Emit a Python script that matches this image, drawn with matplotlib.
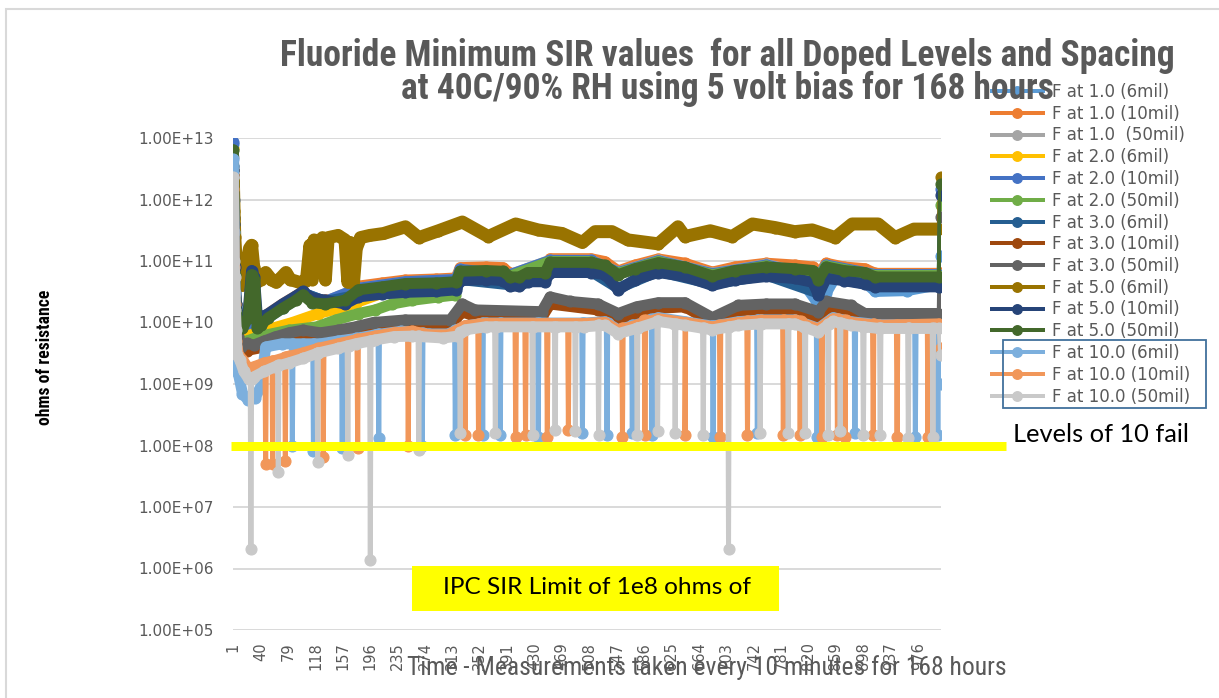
import matplotlib
matplotlib.use("Agg")
import matplotlib.pyplot as plt
from matplotlib import font_manager as fm
from matplotlib.patches import Rectangle
from matplotlib.ticker import FixedLocator, FuncFormatter, NullLocator

# ---------------- data (index of measurement, ohms) ----------------
n_points = 1008
tick_labels = [1, 40, 79, 118, 157, 196, 235, 274, 313, 352, 391, 430, 469,
               508, 547, 586, 625, 664, 703, 742, 781, 820, 859, 898, 937, 976]
y_ticks = [1e5, 1e6, 1e7, 1e8, 1e9, 1e10, 1e11, 1e12, 1e13]
ipc_limit = 1e8

f1_6 = [(1, 8e12), (2, 5e11), (3, 5e10), (5, 1.5e10), (9, 9e9), (20, 1e10), (40, 1e10), (71, 1.7e10),
        (100, 2.8e10), (132, 2.1e10), (179, 3.4e10), (246, 4.4e10), (318, 4.7e10), (324, 7e10),
        (395, 5.7e10), (452, 9.6e10), (510, 9.6e10), (549, 6.2e10), (606, 9.5e10), (683, 5.8e10),
        (760, 8e10), (800, 7.5e10), (815, 4e10), (830, 2.3e10), (845, 3e10), (860, 6e10), (880, 7e10),
        (900, 4.5e10), (915, 3.2e10), (960, 3.3e10), (1000, 4e10), (1006, 4.5e10), (1008, 1.2e11)]
f1_10 = [(1, 1e12), (2, 2e11), (3, 4e10), (5, 1.2e10), (9, 7e9), (14, 8e9), (22, 1e10), (27, 1.5e10),
         (35, 1.1e10), (40, 1.1e10), (51, 1.4e10), (71, 2e10), (90, 2.7e10), (100, 3.2e10), (113, 2.4e10),
         (132, 2.3e10), (160, 2.6e10), (179, 3.9e10), (213, 4.4e10), (246, 4.9e10), (290, 5.1e10),
         (318, 5.3e10), (324, 7.8e10), (360, 8e10), (385, 7.8e10), (395, 6.3e10), (408, 6.3e10),
         (420, 7.5e10), (445, 7.5e10), (452, 1.09e11), (510, 1.09e11), (530, 9.8e10), (549, 6.9e10),
         (573, 8.6e10), (606, 1.08e11), (644, 9.2e10), (683, 6.6e10), (715, 8e10), (760, 9.2e10),
         (800, 8.6e10), (826, 8e10), (834, 5.8e10), (845, 9.2e10), (870, 8e10), (900, 7.5e10),
         (915, 6.3e10), (1006, 6.3e10), (1008, 6.3e10)]
f1_50 = [(1, 5e12), (2, 2e11), (3, 3e10), (5, 1e10), (9, 7e9), (20, 9e9), (40, 1e10), (71, 1.8e10),
         (100, 2.9e10), (132, 2.2e10), (179, 3.6e10), (246, 4.6e10), (318, 5e10), (324, 7.3e10),
         (395, 6e10), (452, 1.03e11), (510, 1.03e11), (549, 6.6e10), (606, 1.03e11), (683, 6.3e10),
         (760, 8.8e10), (834, 5.6e10), (845, 8.5e10), (915, 6e10), (1006, 6e10), (1008, 6e10)]
f2_6 = [(1, 7e12), (2, 4e11), (3, 2e10), (5, 6e9), (9, 5e9), (20, 6e9), (47, 7.5e9), (85, 1e10),
        (122, 1.4e10), (160, 1.8e10), (175, 2.1e10), (213, 3e10), (290, 4.2e10), (318, 4.8e10),
        (324, 7e10), (395, 5.8e10), (452, 1e11), (510, 1e11), (549, 6.3e10), (606, 9.9e10),
        (683, 6e10), (760, 8.4e10), (834, 5.3e10), (845, 8.4e10), (915, 5.8e10), (1006, 5.8e10),
        (1008, 5.8e10)]
f2_10 = [(1, 8.5e12), (2, 1e12), (3, 8e10), (5, 2e10), (9, 9e9), (20, 1e10), (40, 9.5e9), (71, 1.8e10),
         (100, 3e10), (132, 2.2e10), (179, 3.6e10), (246, 4.6e10), (318, 5e10), (324, 7.3e10),
         (395, 6e10), (452, 1.02e11), (510, 1.02e11), (549, 6.5e10), (606, 1.01e11), (683, 6.2e10),
         (760, 8.6e10), (834, 5.4e10), (845, 8.6e10), (915, 6e10), (1006, 6e10), (1008, 1.5e12)]
f2_50 = [(1, 1.3e12), (2, 1e11), (3, 1.5e10), (5, 5e9), (9, 4e9), (20, 5e9), (40, 6e9), (80, 7.5e9),
         (120, 8.5e9), (147, 1.1e10), (179, 1.4e10), (203, 1.6e10), (227, 2e10), (256, 2.3e10),
         (293, 2.6e10), (317, 2.8e10), (324, 6.5e10), (395, 5.7e10), (452, 9.8e10), (510, 9.8e10),
         (549, 6.3e10), (606, 9.8e10), (683, 6e10), (760, 8.3e10), (834, 5.2e10), (845, 8.3e10),
         (915, 5.8e10), (1006, 5.8e10), (1008, 8e11)]
f3_6 = [(1, 3.5e12), (2, 5e11), (3, 7e10), (5, 1.8e10), (9, 1e10), (20, 1.2e10), (40, 1.1e10),
        (71, 1.9e10), (100, 3e10), (132, 2.2e10), (179, 2.8e10), (246, 3.3e10), (318, 3.6e10),
        (324, 5e10), (395, 4.1e10), (452, 6.8e10), (510, 6.8e10), (549, 3.6e10), (606, 6.8e10),
        (683, 4.2e10), (760, 5.9e10), (834, 3e10), (845, 5.5e10), (915, 4e10), (1006, 4e10), (1008, 4e10)]
f3_10 = [(1, 2.5e12), (2, 3e11), (3, 5e10), (5, 1e10), (9, 4e9), (20, 3.5e9), (45, 4e9), (80, 5.5e9),
         (125, 5.5e9), (175, 7e9), (240, 9e9), (310, 9e9), (327, 1.5e10), (345, 1.25e10), (440, 1.2e10),
         (452, 2e10), (520, 1.6e10), (549, 1.15e10), (606, 1.7e10), (644, 1.8e10), (683, 1e10),
         (760, 1.6e10), (834, 1.2e10), (845, 1.7e10), (900, 1.2e10), (1006, 1.15e10), (1008, 1.15e10)]
f3_50 = [(1, 3e12), (2, 5e11), (3, 1e11), (5, 2e10), (8, 6e9), (12, 4e9), (20, 4.6e9), (30, 4.3e9),
         (45, 5e9), (60, 5.8e9), (80, 6.8e9), (100, 7.5e9), (125, 6.8e9), (150, 7.5e9), (175, 8.5e9),
         (200, 1e10), (246, 1.1e10), (310, 1.1e10), (327, 2e10), (345, 1.6e10), (440, 1.5e10),
         (452, 2.6e10), (480, 2.2e10), (520, 2e10), (549, 1.4e10), (575, 1.8e10), (606, 2.1e10),
         (644, 2.1e10), (683, 1.2e10), (720, 1.9e10), (760, 2e10), (800, 2e10), (834, 1.5e10),
         (845, 2.2e10), (880, 1.9e10), (900, 1.4e10), (1006, 1.4e10), (1008, 5.2e11)]
f5_6 = [(1, 2e12), (2, 6.5e11), (3, 2.5e11), (5, 1e11), (8, 6e10), (14, 4e10), (20, 9e10), (24, 1.6e11),
        (27, 1.8e11), (30, 8e10), (34, 4.5e10), (40, 5e10), (47, 6.5e10), (55, 5e10), (62, 4.5e10),
        (70, 5.5e10), (76, 6.5e10), (82, 5e10), (95, 4.5e10), (105, 4.8e10), (110, 1.8e11), (113, 5e10),
        (116, 2.2e11), (122, 1.6e11), (128, 2.4e11), (132, 5e10), (136, 2.4e11), (150, 2.6e11),
        (160, 2.2e11), (164, 4.5e10), (167, 2e11), (172, 4.4e10), (176, 1.6e11), (182, 2.4e11),
        (195, 2.6e11), (215, 2.8e11), (246, 3.6e11), (265, 2.4e11), (293, 3.1e11), (327, 4.3e11),
        (364, 2.5e11), (403, 4e11), (435, 3.2e11), (469, 2.8e11), (498, 2e11), (516, 3e11), (540, 3e11),
        (563, 2.2e11), (606, 1.9e11), (634, 3.6e11), (644, 2.5e11), (680, 3.1e11), (711, 2.5e11),
        (740, 4e11), (772, 3.5e11), (800, 3e11), (825, 3.2e11), (858, 2.4e11), (882, 4e11),
        (919, 4e11), (943, 2.4e11), (970, 3.3e11), (1006, 3.3e11), (1008, 2.3e12)]
f5_10 = [(1, 3e12), (2, 4e11), (3, 8e10), (5, 2e10), (9, 1e10), (14, 9e9), (22, 1.5e10), (27, 7e10),
         (31, 5.5e10), (35, 1.3e10), (40, 1.2e10), (51, 1.4e10), (71, 2e10), (90, 2.7e10), (100, 3.2e10),
         (113, 2.5e10), (132, 2.3e10), (160, 2e10), (179, 2.6e10), (213, 2.9e10), (246, 3.1e10),
         (290, 3.2e10), (318, 3.4e10), (324, 4.8e10), (360, 5e10), (385, 4.8e10), (395, 3.9e10),
         (408, 3.9e10), (420, 4.6e10), (445, 4.6e10), (452, 6.5e10), (510, 6.5e10), (530, 6e10),
         (549, 3.4e10), (573, 5e10), (606, 6.5e10), (644, 5.6e10), (683, 4e10), (715, 4.9e10),
         (760, 5.6e10), (800, 5.2e10), (826, 4.5e10), (834, 2.8e10), (845, 5.2e10), (870, 4.8e10),
         (900, 4.2e10), (915, 3.8e10), (1006, 3.8e10), (1008, 1.2e12)]
f5_50 = [(1, 6.4e12), (2, 3e11), (3, 6e10), (5, 1.5e10), (9, 8e9), (14, 8e9), (22, 1.2e10), (27, 6e10),
         (31, 5e10), (35, 8e9), (40, 9e9), (51, 1.2e10), (71, 1.7e10), (90, 2.3e10), (100, 2.8e10),
         (113, 2.1e10), (132, 2e10), (160, 2.3e10), (179, 3.4e10), (213, 3.8e10), (246, 4.3e10),
         (290, 4.4e10), (318, 4.6e10), (324, 6.8e10), (360, 7e10), (385, 6.8e10), (395, 5.5e10),
         (408, 5.5e10), (420, 6.5e10), (445, 6.5e10), (452, 9.5e10), (510, 9.5e10), (530, 8.5e10),
         (549, 6e10), (573, 7.5e10), (606, 9.4e10), (644, 8e10), (683, 5.7e10), (715, 7e10),
         (760, 8e10), (800, 7.5e10), (826, 7e10), (834, 5e10), (845, 8e10), (870, 7e10), (900, 6.5e10),
         (915, 5.5e10), (1006, 5.5e10), (1008, 1.8e12)]
f10_6 = [(1, 4.5e12), (2, 3e11), (3, 3e10), (5, 4e9), (8, 1.5e9), (14, 7e8), (22, 5.5e8), (32, 6e8),
         (40, 9e8), (47, 4e9), (70, 4.5e9), (100, 4.5e9), (125, 4.5e9), (150, 5e9), (175, 5.5e9),
         (203, 6.3e9), (240, 7.2e9), (280, 6.5e9), (307, 6.5e9), (331, 8.8e9), (360, 9.8e9),
         (500, 9.8e9), (530, 1.03e10), (549, 7.6e9), (575, 9.2e9), (606, 1.2e10), (644, 1.03e10),
         (683, 8.7e9), (720, 1.03e10), (752, 1.1e10), (800, 1.1e10), (834, 8e9), (855, 1.2e10),
         (880, 1.03e10), (920, 9.2e9), (1006, 9.2e9), (1008, 1e9)]
f10_10 = [(1, 1.5e12), (2, 8e10), (3, 2e10), (5, 5e9), (8, 3e9), (14, 2.5e9), (22, 1.8e9), (30, 1.9e9),
          (45, 2.2e9), (60, 2.4e9), (80, 2.8e9), (100, 3.2e9), (122, 3.8e9), (150, 4.5e9), (175, 5.2e9),
          (203, 6e9), (230, 6.8e9), (256, 7.2e9), (280, 6.3e9), (307, 6.3e9), (331, 8.8e9), (360, 9.6e9),
          (500, 9.6e9), (530, 1e10), (549, 7.4e9), (575, 9e9), (606, 1.15e10), (644, 1e10), (683, 8.5e9),
          (720, 1e10), (752, 1.08e10), (800, 1.08e10), (834, 7.8e9), (855, 1.15e10), (880, 1e10),
          (920, 9e9), (1006, 9.5e9), (1008, 3.9e9)]
f10_50 = [(1, 2.3e12), (2, 1e11), (3, 5.5e10), (4, 1.6e10), (5, 7.6e9), (6, 3e9), (10, 2.5e9),
          (16, 1.6e9), (23, 1.2e9), (30, 1.3e9), (45, 1.6e9), (60, 1.9e9), (80, 2.2e9), (100, 2.6e9),
          (122, 3.2e9), (150, 3.8e9), (175, 4.5e9), (203, 5.2e9), (230, 5.9e9), (256, 6e9), (300, 5.6e9),
          (320, 6e9), (331, 7.6e9), (360, 8.5e9), (500, 8.5e9), (530, 9e9), (549, 6.6e9), (575, 8e9),
          (606, 1.04e10), (644, 9e9), (683, 7.6e9), (720, 9e9), (752, 9.5e9), (800, 9.5e9), (834, 7e9),
          (855, 1.04e10), (880, 9e9), (920, 8e9), (1006, 8e9), (1008, 3e9)]

# single-reading failures: (index, low reading, level just before/after)
drops10_6 = [(85, 1e8, 4.5e9), (115, 8e7, 4.5e9), (156, 9e7, 5e9), (208, 1.3e8, 6.5e9), (270, 1e8, 6.8e9),
             (317, 1.5e8, 7.5e9), (356, 1.5e8, 9.8e9), (381, 1.5e8, 9.8e9), (435, 1.4e8, 9.8e9),
             (498, 1.6e8, 9.8e9), (533, 1.5e8, 1e10), (569, 1.6e8, 9e9), (597, 1.5e8, 1.15e10),
             (684, 1.4e8, 8.7e9), (747, 1.6e8, 1.1e10), (832, 1.4e8, 8.2e9), (886, 1.6e8, 1e10),
             (972, 1.4e8, 9.2e9), (1004, 1.5e8, 9.2e9)]
drops10_10 = [(47, 5e7, 2.2e9), (57, 5e7, 2.4e9), (75, 5.5e7, 2.7e9), (129, 6.5e7, 3.9e9), (178, 9e7, 5.3e9),
              (250, 1e8, 7e9), (331, 1.5e8, 8.8e9), (350, 1.5e8, 9.5e9), (403, 1.4e8, 9.6e9),
              (417, 1.5e8, 9.6e9), (448, 1.4e8, 9.6e9), (478, 1.8e8, 9.6e9), (555, 1.4e8, 8e9),
              (587, 1.5e8, 1.1e10), (644, 1.5e8, 1e10), (694, 1.4e8, 9e9), (733, 1.5e8, 1.05e10),
              (784, 1.5e8, 1.08e10), (808, 1.5e8, 1.05e10), (839, 1.4e8, 8.5e9), (861, 1.5e8, 1.12e10),
              (872, 1.4e8, 1.08e10), (912, 1.5e8, 9.4e9), (946, 1.4e8, 9e9), (990, 1.4e8, 9.2e9)]
drops10_50 = [(26, 2.1e6, 1.2e9), (65, 3.7e7, 2e9), (121, 5.4e7, 3.2e9), (164, 7e7, 4.2e9), (196, 1.4e6, 5e9),
              (265, 8.5e7, 6e9), (324, 1.6e8, 7e9), (374, 1.6e8, 8.5e9), (427, 1.5e8, 8.5e9),
              (459, 1.8e8, 8.5e9), (488, 1.7e8, 8.5e9), (521, 1.5e8, 9e9), (576, 1.5e8, 8e9),
              (605, 1.7e8, 1.04e10), (630, 1.6e8, 9.5e9), (670, 1.5e8, 8e9), (706, 2.1e6, 8.5e9),
              (751, 1.6e8, 9.5e9), (791, 1.6e8, 9.5e9), (815, 1.6e8, 8.5e9), (848, 1.5e8, 9.5e9),
              (865, 1.7e8, 9.8e9), (898, 1.5e8, 8.5e9), (922, 1.5e8, 8e9), (962, 1.3e8, 8e9),
              (997, 1.4e8, 8e9)]

labels = ["F at 1.0 (6mil)", "F at 1.0 (10mil)", "F at 1.0  (50mil)", "F at 2.0 (6mil)",
          "F at 2.0 (10mil)", "F at 2.0 (50mil)", "F at 3.0 (6mil)", "F at 3.0 (10mil)",
          "F at 3.0 (50mil)", "F at 5.0 (6mil)", "F at 5.0 (10mil)", "F at 5.0 (50mil)",
          "F at 10.0 (6mil)", "F at 10.0 (10mil)", "F at 10.0 (50mil)"]
colors = ["#5B9BD5", "#ED7D31", "#A5A5A5", "#FFC000", "#4472C4", "#70AD47",
          "#255E91", "#9E480E", "#636363", "#997300", "#264478", "#43682B",
          "#7CAFDD", "#F1975A", "#C9C9C9"]
trends = [f1_6, f1_10, f1_50, f2_6, f2_10, f2_50, f3_6, f3_10, f3_50,
          f5_6, f5_10, f5_50, f10_6, f10_10, f10_50]
drops = [[], [], [], [], [], [], [], [], [], [], [], [], drops10_6, drops10_10, drops10_50]

# ---------------- fonts ----------------
installed = {f.name for f in fm.fontManager.ttflist}
narrow = "Lato"
for cand in ["Liberation Sans Narrow", "DejaVu Sans Condensed", "Roboto Condensed", "Open Sans Condensed"]:
    if cand in installed:
        narrow = cand
        break
calibri = "Lato" if "Lato" in installed else "DejaVu Sans"

W, H = 1219, 698
fig = plt.figure(figsize=(W / 100, H / 100), dpi=100)
fig.patch.set_facecolor("white")

def fx(px):
    return px / W

def fy(py):
    return 1 - py / H

ax = fig.add_axes([fx(233), fy(630), fx(941) - fx(233), fy(138) - fy(630)])
ax.set_yscale("log")
ax.set_ylim(1e5, 1e13)
ax.set_xlim(0.5, n_points + 0.5)

PX = 0.72  # points per pixel
handles = []
for k, (trend, dr, col, lab) in enumerate(zip(trends, drops, colors, labels)):
    z = 3 + k * 0.1
    band = trend[:-1]
    bw = 13 if k == 9 else 11
    ax.plot([p[0] for p in band], [p[1] for p in band], color=col, lw=bw * PX,
            solid_capstyle="round", solid_joinstyle="round", zorder=z)
    pts = list(trend)
    for (i, lo, lv) in dr:
        pts += [(i - 1, lv), (i, lo), (i + 1, lv)]
    pts.sort(key=lambda p: p[0])
    ax.plot([p[0] for p in pts], [p[1] for p in pts], color=col, lw=5 * PX,
            marker="o", ms=11 * PX, mec=col, mew=0.8, zorder=z + 0.05,
            solid_joinstyle="round")
    handles.append(plt.Line2D([], [], color=col, lw=4 * PX, marker="o", ms=9.5 * PX,
                              mec=col, label=lab))

# IPC limit line (shape spanning beyond plot)
trans = matplotlib.transforms.blended_transform_factory(fig.transFigure, ax.transData)
ax.plot([fx(231), fx(1006)], [ipc_limit, ipc_limit], color="#FFFF00", lw=9 * PX,
        transform=trans, clip_on=False, zorder=10, solid_capstyle="butt")

# axes styling
for s in ax.spines.values():
    s.set_visible(False)
ax.yaxis.set_major_locator(FixedLocator(y_ticks))
ax.yaxis.set_minor_locator(NullLocator())
ax.yaxis.set_major_formatter(FuncFormatter(lambda v, p: f"{v:.2E}"))
ax.set_xticks(tick_labels)
ax.set_xticklabels([str(t) for t in tick_labels], rotation=90)
ax.grid(axis="y", color="#D9D9D9", lw=1.4, zorder=0)
ax.set_axisbelow(True)
ax.tick_params(axis="y", length=0, pad=14, labelsize=11, labelcolor="#595959")
ax.tick_params(axis="x", length=0, pad=9, labelsize=10.5, labelcolor="#595959")
for t in ax.get_yticklabels() + ax.get_xticklabels():
    t.set_fontfamily("DejaVu Sans")

# legend
leg = ax.legend(handles=handles, loc="upper left", bbox_to_anchor=(fx(992), fy(83)),
                bbox_transform=fig.transFigure, frameon=False,
                handlelength=3.05, handletextpad=0.55, labelspacing=0.225,
                borderpad=0, borderaxespad=0, prop={"family": "DejaVu Sans", "size": 12})
for t in leg.get_texts():
    t.set_color("#595959")
leg.set_zorder(20)

# chart border & legend highlight box
fig.patches.append(Rectangle((fx(6), fy(H + 10)), fx(W + 20), fy(9) - fy(H + 10), transform=fig.transFigure,
                             fill=False, edgecolor="#D9D9D9", lw=1.5))
fig.patches.append(Rectangle((fx(1003), fy(408)), fx(1206) - fx(1003), fy(340) - fy(408),
                             transform=fig.transFigure, fill=False, edgecolor="#41719C", lw=1.3, zorder=21))
# IPC textbox
fig.patches.append(Rectangle((fx(412), fy(611)), fx(779) - fx(412), fy(566) - fy(611),
                             transform=fig.transFigure, facecolor="#FFFF00", edgecolor="none", zorder=22))

renderer = fig.canvas.get_renderer()

def fit_width(t, target, vertical=False):
    bb = t.get_window_extent(renderer)
    cur = bb.height if vertical else bb.width
    t.set_fontsize(t.get_fontsize() * target / cur)

title1 = fig.text(fx(727), fy(56), "Fluoride Minimum SIR values  for all Doped Levels and Spacing",
                  ha="center", va="center", fontsize=20, fontweight="bold", color="#595959",
                  family=narrow, zorder=15)
title2 = fig.text(fx(727), fy(89), "at 40C/90% RH using 5 volt bias for 168 hours",
                  ha="center", va="center", fontsize=20, fontweight="bold", color="#595959",
                  family=narrow, zorder=15)
fit_width(title1, 895)
title2.set_fontsize(title1.get_fontsize())

ylab = fig.text(fx(45), fy(357), "ohms of resistance", rotation=90, ha="center", va="center",
                fontsize=12, fontweight="heavy", color="black", family=narrow)
fit_width(ylab, 135, vertical=True)

xlab = fig.text(fx(707), fy(668), "Time - Measurements taken every 10 minutes for 168 hours",
                ha="center", va="center", fontsize=14, color="#595959", family=narrow, zorder=15)
fit_width(xlab, 605)

ipc = fig.text(fx(597), fy(588), "IPC SIR Limit of 1e8 ohms of", ha="center", va="center",
               fontsize=14, color="black", family=calibri, zorder=23)
fit_width(ipc, 309)

lvl = fig.text(fx(1013), fy(435), "Levels of 10 fail", ha="left", va="center",
               fontsize=14, color="black", family=calibri, zorder=23)
fit_width(lvl, 177)

fig.savefig("out.png", dpi=100)
